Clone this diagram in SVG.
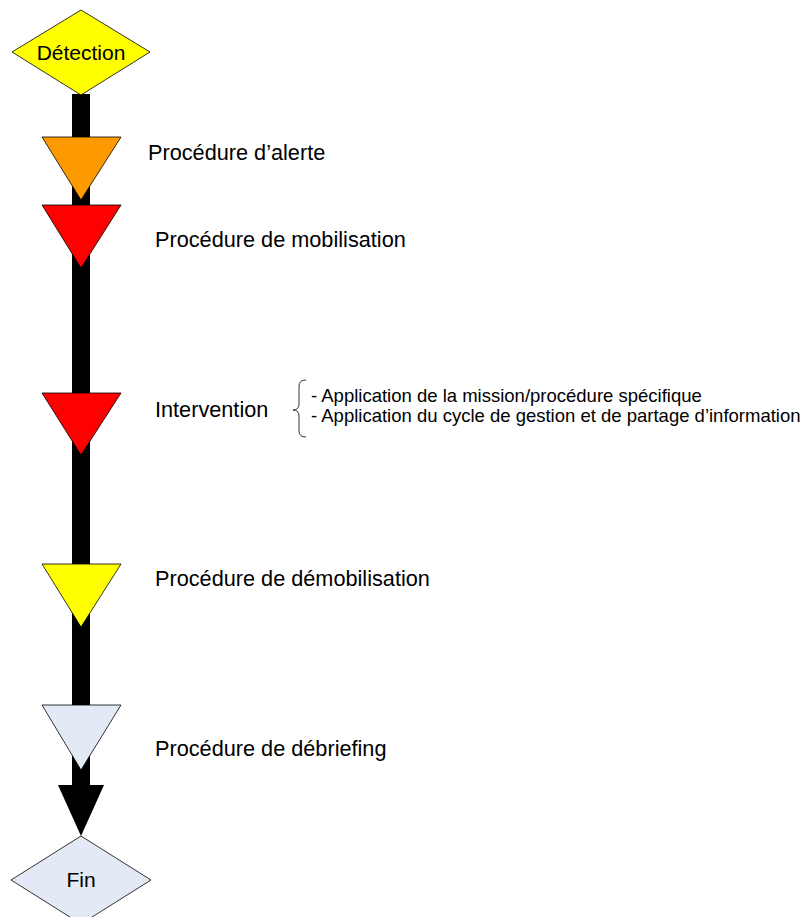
<svg xmlns="http://www.w3.org/2000/svg" width="801" height="917" viewBox="0 0 801 917">
<style>
.t{font-family:"Liberation Sans",Arial,sans-serif;fill:#000;}
.lbl{font-size:21.7px;}
.sub{font-size:18.5px;}
.node{font-size:21px;}
.tri{stroke:#000;stroke-width:0.8;}
</style>
<rect x="0" y="0" width="801" height="917" fill="#fff"/>
<g id="connectors">
<rect x="72" y="94" width="18" height="692" fill="#000"/>
<polygon points="58,785 104,785 81,836" fill="#000"/>
</g>
<g id="detection">
<polygon points="81,10 150,52 81,95 12,52" fill="#ffff00" stroke="#000" stroke-width="0.8"/>
<text class="t node" x="81" y="59.5" text-anchor="middle">Détection</text>
</g>
<g id="alerte">
<polygon class="tri" points="42,137 121,137 81,200" fill="#ff9900"/>
<text class="t lbl" x="148" y="160">Procédure d’alerte</text>
</g>
<g id="mobilisation">
<polygon class="tri" points="42,205 121,205 81,268" fill="#ff0000"/>
<text class="t lbl" x="155" y="247">Procédure de mobilisation</text>
</g>
<g id="intervention">
<polygon class="tri" points="42,393 121,393 81,455" fill="#ff0000"/>
<text class="t lbl" x="155" y="417">Intervention</text>
<path d="M306,380 Q299,380 299,386 L299,404 Q299,410 293,410 Q299,410 299,416 L299,431 Q299,437 306,437" fill="none" stroke="#000" stroke-width="0.8"/>
<text class="t sub" x="311" y="402">- Application de la mission/procédure spécifique</text>
<text class="t sub" x="311" y="422">- Application du cycle de gestion et de partage d’information</text>
</g>
<g id="demobilisation">
<polygon class="tri" points="42,564 121,564 81,627" fill="#ffff00"/>
<text class="t lbl" x="155" y="586">Procédure de démobilisation</text>
</g>
<g id="debriefing">
<polygon class="tri" points="42,705 121,705 81,770" fill="#e3e9f5"/>
<text class="t lbl" x="155" y="756">Procédure de débriefing</text>
</g>
<g id="fin">
<polygon points="81,836 151,880 81,924 11,880" fill="#e3e9f5" stroke="#000" stroke-width="0.8"/>
<text class="t node" x="81" y="887" text-anchor="middle">Fin</text>
</g>
</svg>
